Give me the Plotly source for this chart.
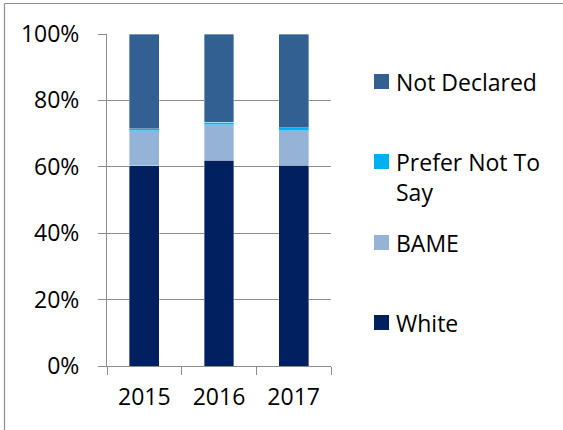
import plotly.graph_objects as go

years = ["2015", "2016", "2017"]
series_names = ["White", "BAME", "Prefer Not To Say", "Not Declared"]
white = [60.3, 62.0, 60.4]
bame = [10.6, 10.7, 10.5]
prefer_not = [0.5, 0.7, 0.8]
not_declared = [28.6, 26.6, 28.3]
colors = ["#002060", "#95B3D7", "#00B0F0", "#336092"]
legend_labels = ["White", "BAME", "Prefer Not To<br>Say", "Not Declared"]

W, H = 563, 430
L, R, T, B = 107, 331, 34, 366  # plot area in pixels

def px_x(p):
    return (p - L) / (R - L)

def px_y(p):
    return (B - p) / (B - T)

FONT = "Open Sans"
FS = 23

fig = go.Figure()
for name, vals, col in zip(series_names, [white, bame, prefer_not, not_declared], colors):
    fig.add_trace(go.Bar(
        x=years, y=[v / 100 for v in vals], name=name,
        marker=dict(color=col, line=dict(color="rgba(255,255,255,0.45)", width=0.8)),
        showlegend=False,
    ))

# manual legend (Excel-like spacing)
legend_centers = [322.5, 242.5, 161.5, 81.5]  # pixel y for first line of each entry
shapes = []
annotations = []
for lab, col, cy in zip(legend_labels, colors, legend_centers):
    shapes.append(dict(type="rect", xref="paper", yref="paper",
                       x0=px_x(374), x1=px_x(389), y0=px_y(cy + 7.5), y1=px_y(cy - 7.5),
                       fillcolor=col, line=dict(width=0)))
    annotations.append(dict(xref="paper", yref="paper", x=px_x(395), y=px_y(cy - 16.5),
                            xanchor="left", yanchor="top", align="left", showarrow=False,
                            text=lab, font=dict(family=FONT, size=FS, color="black"),
                            borderpad=0))

# outer chart border (only top and left edges are visible in the frame)
shapes.append(dict(type="line", xref="paper", yref="paper",
                   x0=px_x(4.5), x1=px_x(W), y0=px_y(3.5), y1=px_y(3.5),
                   line=dict(color="#8C8C8C", width=1.2), layer="below"))
shapes.append(dict(type="line", xref="paper", yref="paper",
                   x0=px_x(4.5), x1=px_x(4.5), y0=px_y(3.5), y1=px_y(H),
                   line=dict(color="#8C8C8C", width=1.2), layer="below"))

fig.update_layout(
    width=W, height=H,
    margin=dict(l=L, r=W - R, t=T, b=H - B, pad=0),
    barmode="stack", bargap=0.6,
    paper_bgcolor="white", plot_bgcolor="white",
    font=dict(family=FONT, size=FS, color="black"),
    shapes=shapes, annotations=annotations,
    showlegend=False,
)
fig.update_yaxes(range=[0, 1], dtick=0.2, tickformat=".0%",
                 showgrid=True, gridcolor="#8C8C8C", gridwidth=1,
                 showline=True, linecolor="#8C8C8C", linewidth=1,
                 ticks="outside", ticklen=8, tickcolor="#8C8C8C",
                 ticklabelstandoff=14, zeroline=False, fixedrange=True)
fig.update_xaxes(showline=True, linecolor="#8C8C8C", linewidth=1,
                 ticks="outside", ticklen=8, tickcolor="#8C8C8C",
                 tickson="boundaries", ticklabelstandoff=10, showgrid=False, fixedrange=True)

fig.write_html("out.html", config={"displayModeBar": False},
               post_script="document.body.style.margin='0';document.body.style.overflow='hidden';")
